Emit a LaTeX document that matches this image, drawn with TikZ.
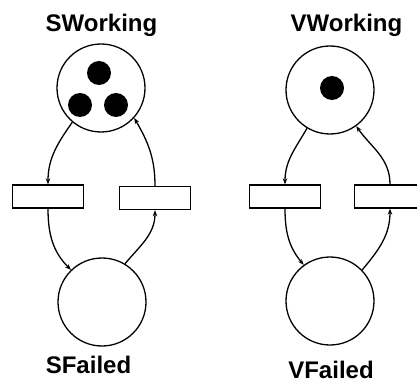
\documentclass[tikz,border=0pt]{standalone}
\usepackage{fontspec}
\setmainfont{Liberation Sans}
\usetikzlibrary{arrows.meta}
\tikzset{
  place/.style={draw, circle, line width=1.3pt, minimum size=88pt, inner sep=0pt},
  token/.style={fill, circle, minimum size=24pt, inner sep=0pt},
  transition/.style={draw, rectangle, line width=1.3pt, minimum width=71pt, minimum height=23pt, inner sep=0pt},
  arc/.style={line width=1.3pt, -{Stealth[length=6pt,width=4.5pt]}},
  netlabel/.style={anchor=base, inner sep=0pt, font=\fontsize{24}{29}\selectfont\bfseries},
}
\begin{document}
\begin{tikzpicture}[x=1pt,y=1pt]
  \clip (0,0) rectangle (417,383);
  % system net
  \node[netlabel] (swlabel) at (101.5,351) {SWorking};
  \node[place] (sw) at (101,295) {};
  \node[token] (swtok1) at (99,310) {};
  \node[token] (swtok2) at (80,278) {};
  \node[token] (swtok3) at (116,278) {};
  \node[transition] (sfail) at (48,186.5) {};
  \node[transition] (srepair) at (155,185) {};
  \node[place] (sf) at (102,81) {};
  \node[netlabel] (sflabel) at (88.5,10) {SFailed};
  \draw[arc] (sw.230) to[out=235,in=90] (sfail.north);
  \draw[arc] (sfail.south) to[out=270,in=135] (sf.134);
  \draw[arc] (sf.59) to[out=50,in=270] (srepair.south);
  \draw[arc] (srepair.north) to[out=90,in=-60] (sw.318);
  % voter net
  \node[netlabel] (vwlabel) at (346.5,351) {VWorking};
  \node[place] (vw) at (330,293) {};
  \node[token] (vwtok) at (332,295) {};
  \node[transition] (vfail) at (285,186.5) {};
  \node[transition] (vrepair) at (390,186.5) {};
  \node[place] (vf) at (330,82) {};
  \node[netlabel] (vflabel) at (331,5) {VFailed};
  \draw[arc] (vw.239) to[out=240,in=90] (vfail.north);
  \draw[arc] (vfail.south) to[out=270,in=130] (vf.126);
  \draw[arc] (vf.44) to[out=50,in=270] (vrepair.south);
  \draw[arc] (vrepair.north) to[out=90,in=-55] (vw.306);
\end{tikzpicture}
\end{document}
